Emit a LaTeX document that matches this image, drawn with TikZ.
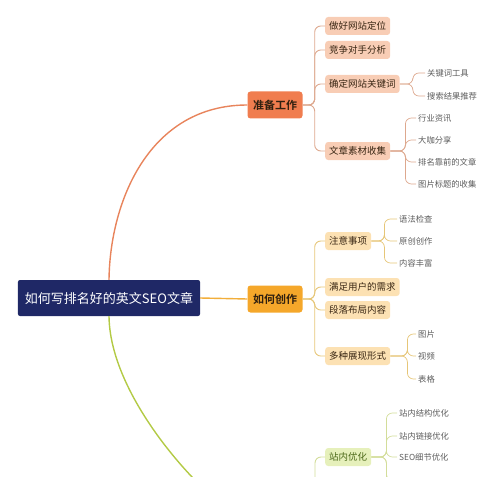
\documentclass[tikz,border=0pt]{standalone}
\usepackage{fontspec}
\setmainfont{Noto Sans CJK SC}[BoldFont={Noto Sans CJK SC Bold}]
\usepackage{tikz}

\definecolor{navy}{HTML}{1F2866}
\definecolor{prepline}{HTML}{E8845C}
\definecolor{prepfill}{HTML}{F07D4F}
\definecolor{prepsub}{HTML}{F8CDB5}
\definecolor{preplink}{HTML}{DDA88E}
\definecolor{writeline}{HTML}{F2AE3A}
\definecolor{writefill}{HTML}{F5A72A}
\definecolor{writesub}{HTML}{FCE1B3}
\definecolor{writelink}{HTML}{E6C678}
\definecolor{siteline}{HTML}{B3CA45}
\definecolor{sitesub}{HTML}{E6F0BB}
\definecolor{sitelink}{HTML}{D3DD9A}
\definecolor{leafgray}{HTML}{5C5C5C}

\tikzset{
  root/.style={fill=navy,text=white,rounded corners=2pt,minimum height=36pt,
    inner xsep=7pt,font=\fontsize{13}{13}\selectfont},
  topic/.style={rounded corners=3pt,minimum width=55pt,minimum height=27pt,
    inner xsep=4pt,font=\fontsize{11}{11}\selectfont\bfseries},
  sub/.style={anchor=west,rounded corners=3pt,minimum height=18pt,
    inner xsep=4pt,font=\fontsize{9.5}{9.5}\selectfont},
  leaf/.style={anchor=west,inner xsep=2pt,text=leafgray,
    font=\fontsize{8.3}{8.3}\selectfont},
  link/.style={rounded corners=6pt,line width=0.9pt},
  twig/.style={rounded corners=6pt,line width=0.7pt},
}

\begin{document}
\begin{tikzpicture}[x=1pt,y=-1pt]
\useasboundingbox (0,0) rectangle (500,476);
\clip (0,0) rectangle (500,476);

% root and main topics
\node[root] (root) at (109,298) {如何写排名好的英文SEO文章};
\node[topic,fill=prepfill,text=black!75!brown] (prep) at (275,105) {准备工作};
\node[topic,fill=writefill,text=black!75!brown] (write) at (275,299) {如何创作};
\coordinate (site) at (248,520);
\coordinate (sitebus) at (315,520);

\draw[prepline,line width=1.4pt] (root.north) .. controls (110,200) and (150,105) .. (prep.west);
\draw[writeline,line width=1.4pt] (root.east) -- (write.west);
\draw[siteline,line width=1.4pt] (root.south) .. controls (110,408) and (226,520) .. (site);

% 准备工作
\node[sub,fill=prepsub,text=black!70!brown] (p1) at (325,26) {做好网站定位};
\node[sub,fill=prepsub,text=black!70!brown] (p2) at (325,50) {竞争对手分析};
\node[sub,fill=prepsub,text=black!70!brown] (p3) at (325,84) {确定网站关键词};
\node[sub,fill=prepsub,text=black!70!brown] (p4) at (325,151) {文章素材收集};
\foreach \c in {p1,p2,p3,p4}
  \draw[link,preplink] (prep.east) -- ++(12,0) |- (\c.west);

\node[leaf] (p31) at (425,73) {关键词工具};
\node[leaf] (p32) at (425,96) {搜索结果推荐};
\foreach \c in {p31,p32}
  \draw[twig,preplink] (p3.east) -- ++(13,0) |- (\c.west);

\node[leaf] (p41) at (416,118) {行业资讯};
\node[leaf] (p42) at (416,140) {大咖分享};
\node[leaf] (p43) at (416,162) {排名靠前的文章};
\node[leaf] (p44) at (416,184) {图片标题的收集};
\foreach \c in {p41,p42,p43,p44}
  \draw[twig,preplink] (p4.east) -- ++(15,0) |- (\c.west);

% 如何创作
\node[sub,fill=writesub,text=black!70!brown] (w1) at (325,241) {注意事项};
\node[sub,fill=writesub,text=black!70!brown] (w2) at (325,287) {满足用户的需求};
\node[sub,fill=writesub,text=black!70!brown] (w3) at (325,310) {段落布局内容};
\node[sub,fill=writesub,text=black!70!brown] (w4) at (325,356) {多种展现形式};
\foreach \c in {w1,w2,w3,w4}
  \draw[link,writelink] (write.east) -- ++(12,0) |- (\c.west);

\node[leaf] (w11) at (397,219) {语法检查};
\node[leaf] (w12) at (397,241) {原创创作};
\node[leaf] (w13) at (397,263) {内容丰富};
\foreach \c in {w11,w12,w13}
  \draw[twig,writelink] (w1.east) -- ++(13,0) |- (\c.west);

\node[leaf] (w41) at (416,334) {图片};
\node[leaf] (w42) at (416,356) {视频};
\node[leaf] (w43) at (416,379) {表格};
\foreach \c in {w41,w42,w43}
  \draw[twig,writelink] (w4.east) -- ++(17,0) |- (\c.west);

% 站内优化
\node[sub,fill=sitesub,text=black!65!green!60!brown] (s1) at (325,457) {站内优化};
\draw[link,sitelink] (sitebus) |- (s1.west);

\node[leaf] (s11) at (397,413) {站内结构优化};
\node[leaf] (s12) at (397,436) {站内链接优化};
\node[leaf] (s13) at (397,457) {SEO细节优化};
\coordinate (s14) at (397,480);
\coordinate (s15) at (397,502);
\foreach \c in {s11,s12,s13,s14,s15}
  \draw[twig,sitelink] (s1.east) -- ++(15,0) |- (\c);
\end{tikzpicture}
\end{document}
